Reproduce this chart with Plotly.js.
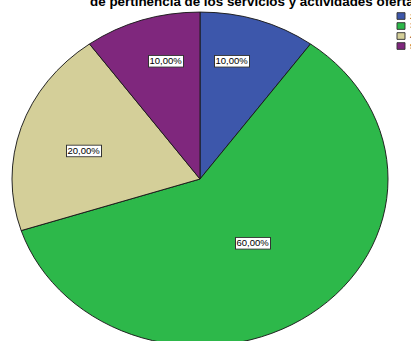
<!DOCTYPE html>
<html>
<head>
<meta charset="utf-8">
<script src="https://cdn.plot.ly/plotly-3.0.1.min.js"></script>
<style>
html,body{margin:0;padding:0;overflow:hidden;background:#fff;width:411px;height:341px;}
#chart{width:411px;height:400px;transform:scaleY(0.888);transform-origin:0 0;}
</style>
</head>
<body>
<div id="chart"></div>
<script>
// ---- data ----
const categories = ["2", "3", "4", "5"];
const values = [10, 60, 20, 10];
const titleText = "de pertinencia de los servicios y actividades ofertadas";

// ---- style ----
const colors = ["#3d57ab", "#2db84a", "#d4cf99", "#7f277d"];
const W = 411, H = 400;
const cxPx = 200, cyPx = 201.6, rPx = 188;
// label placement as fractions of the radius (horizontal, vertical)
const labelFx = [0.55, 0.48, 0.65, 0.585];
const labelFy = [0.74, 0.473, 0.544, 0.74];

const total = values.reduce((a, b) => a + b, 0);
const fmt = v => (v / total * 100).toFixed(2).replace('.', ',') + '%';

const trace = {
  type: 'pie',
  values: values,
  labels: categories,
  sort: false,
  direction: 'clockwise',
  rotation: 0,
  marker: {colors: colors, line: {color: '#1a1a1a', width: 1}},
  textinfo: 'none',
  hoverinfo: 'none',
  showlegend: false,
  domain: {x: [(cxPx - rPx) / W, (cxPx + rPx) / W], y: [1 - (cyPx + rPx) / H, 1 - (cyPx - rPx) / H]}
};

const annotations = [];
const shapes = [];
let cum = 0;
values.forEach((v, i) => {
  const mid = (cum + v / 2) / total * 2 * Math.PI;
  cum += v;
  const px = cxPx + rPx * labelFx[i] * Math.sin(mid);
  const py = cyPx - rPx * labelFy[i] * Math.cos(mid);
  annotations.push({
    xref: 'paper', yref: 'paper', x: px / W, y: 1 - py / H,
    xanchor: 'center', yanchor: 'middle', showarrow: false,
    text: fmt(v), font: {family: 'Arial, Liberation Sans, sans-serif', size: 9.5, color: '#000'},
    bgcolor: '#ffffff', bordercolor: '#333333', borderwidth: 1, borderpad: 0.5
  });
  // legend swatch + label
  const top = 14.3 + i * 11.26;
  shapes.push({
    type: 'rect', xref: 'paper', yref: 'paper',
    x0: 397 / W, x1: 405 / W, y0: 1 - (top + 7.5) / H, y1: 1 - top / H,
    fillcolor: colors[i], line: {color: '#333333', width: 1}
  });
  annotations.push({
    xref: 'paper', yref: 'paper', x: 407.5 / W, y: 1 - (top + 3.75) / H,
    xanchor: 'left', yanchor: 'middle', showarrow: false,
    text: categories[i], font: {family: 'Arial, Liberation Sans, sans-serif', size: 9, color: '#000'}
  });
});

annotations.push({
  xref: 'paper', yref: 'paper', x: 88 / W, y: 1 - 12 / H,
  xanchor: 'left', yanchor: 'bottom', showarrow: false,
  text: '<b>' + titleText + '</b>',
  font: {family: 'Arial, Liberation Sans, sans-serif', size: 13.4, color: '#000'}
});

const layout = {
  width: W, height: H,
  margin: {l: 0, r: 0, t: 0, b: 0},
  paper_bgcolor: '#ffffff',
  showlegend: false,
  annotations: annotations,
  shapes: shapes
};

Plotly.newPlot('chart', [trace], layout, {displayModeBar: false, staticPlot: true});
</script>
</body>
</html>
